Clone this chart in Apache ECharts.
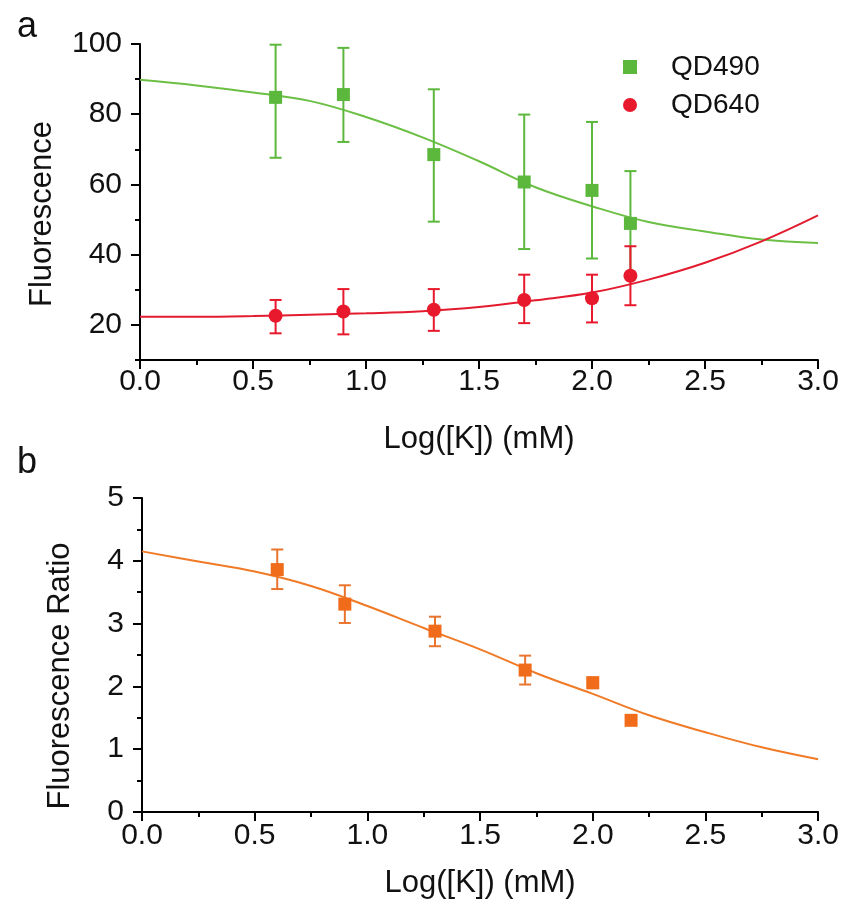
<!DOCTYPE html>
<html>
<head>
<meta charset="utf-8">
<script src="https://cdn.jsdelivr.net/npm/echarts@6/dist/echarts.min.js"></script>
<style>
html,body{margin:0;padding:0;background:#fff;}
#chart{width:842px;height:915px;}
</style>
</head>
<body>
<div id="chart"></div>
<script>
// ---- data ----
const pointX = [0.6, 0.9, 1.3, 1.7, 2.0, 2.17];

const qd490Mean  = [84.8, 85.6, 68.5, 60.7, 58.3, 48.9];
const qd490Lower = [67.6, 72.1, 49.4, 41.6, 38.9, 34.0];
const qd490Upper = [99.8, 98.9, 87.1, 79.9, 77.8, 63.8];

const qd640Mean  = [22.6, 23.8, 24.3, 27.1, 27.6, 34.0];
const qd640Lower = [17.6, 17.3, 18.3, 20.5, 20.7, 25.6];
const qd640Upper = [27.1, 30.2, 30.2, 34.3, 34.3, 42.4];

const ratioMean  = [3.86, 3.31, 2.88, 2.26, 2.06, 1.46];
const ratioLower = [3.55, 3.01, 2.64, 2.03, 1.97, 1.40];
const ratioUpper = [4.18, 3.61, 3.11, 2.49, 2.13, 1.52];

const fitX     = [0, 0.25, 0.5, 0.75, 1.0, 1.25, 1.5, 1.75, 2.0, 2.25, 2.5, 2.75, 3.0];
const fit490   = [89.8, 88.2, 86.2, 83.8, 79.2, 73.4, 66.6, 59.2, 53.8, 49.3, 46.6, 44.3, 43.3];
const fit640   = [22.3, 22.3, 22.5, 22.9, 23.3, 23.9, 25.1, 27.0, 29.2, 32.9, 37.7, 43.8, 51.2];
const fitRatio = [4.15, 3.99, 3.83, 3.60, 3.28, 2.93, 2.59, 2.21, 1.88, 1.54, 1.27, 1.03, 0.84];

const yTicksA      = [20, 40, 60, 80, 100];
const yMinorTicksA = [10, 30, 50, 70, 90];

// ---- helpers ----
const FONT = 'Liberation Sans, Arial, sans-serif';
const GREEN = '#5cb83c', GREEN_LINE = '#6cbf45';
const RED = '#e8192c', RED_LINE = '#e31b2e';
const ORANGE = '#f06c1a', ORANGE_LINE = '#f07a26';

const zip2 = (xs, ys) => xs.map((x, i) => [x, ys[i]]);
const zip3 = (xs, lo, hi) => xs.map((x, i) => [x, lo[i], hi[i]]);

function errorBarSeries(name, xi, yi, data, color, z) {
  return {
    type: 'custom', name: name, xAxisIndex: xi, yAxisIndex: yi, z: z,
    silent: true,
    data: data,
    renderItem: function (params, api) {
      const x = api.value(0);
      const lo = api.coord([x, api.value(1)]);
      const hi = api.coord([x, api.value(2)]);
      const hw = 6;
      const style = { stroke: color, lineWidth: 2 };
      return {
        type: 'group',
        children: [
          { type: 'line', shape: { x1: lo[0], y1: lo[1], x2: hi[0], y2: hi[1] }, style: style },
          { type: 'line', shape: { x1: lo[0] - hw, y1: lo[1], x2: lo[0] + hw, y2: lo[1] }, style: style },
          { type: 'line', shape: { x1: hi[0] - hw, y1: hi[1], x2: hi[0] + hw, y2: hi[1] }, style: style }
        ]
      };
    }
  };
}

function xAxisDef(gridIndex, margin, nameGap) {
  return {
    type: 'value', gridIndex: gridIndex, min: 0, max: 3, interval: 0.5,
    name: 'Log([K]) (mM)', nameLocation: 'middle', nameGap: nameGap,
    nameTextStyle: { fontFamily: FONT, fontSize: 31, color: '#111' },
    axisLine: { show: true, onZero: false, lineStyle: { color: '#000', width: 2 } },
    axisTick: { show: true, inside: false, length: 9, lineStyle: { color: '#000', width: 2 } },
    minorTick: { show: true, splitNumber: 2, length: 5, lineStyle: { color: '#000', width: 2 } },
    axisLabel: { fontFamily: FONT, fontSize: 30, color: '#111', margin: margin,
      formatter: v => v.toFixed(1) },
    splitLine: { show: false }
  };
}

const option = {
  animation: false,
  backgroundColor: '#fff',
  title: [
    { text: 'a', left: 12, top: 4, textStyle: { fontFamily: FONT, fontSize: 36, fontWeight: 'normal', color: '#111' } },
    { text: 'b', left: 12, top: 440, textStyle: { fontFamily: FONT, fontSize: 36, fontWeight: 'normal', color: '#111' } }
  ],
  legend: {
    orient: 'vertical', left: 618, top: 48, itemGap: 10,
    itemWidth: 14, itemHeight: 14,
    data: [{ name: 'QD490', icon: 'rect' }, { name: 'QD640', icon: 'circle' }],
    textStyle: { fontFamily: FONT, fontSize: 28, color: '#111', padding: [0, 0, 0, 29] }
  },
  grid: [
    { left: 140, top: 44, width: 678, height: 316 },
    { left: 142, top: 498, width: 678, height: 314 }
  ],
  xAxis: [ xAxisDef(0, 7, 64), xAxisDef(1, 9, 56) ],
  yAxis: [
    {
      type: 'value', gridIndex: 0, min: 10, max: 100, interval: 10,
      name: 'Fluorescence', nameLocation: 'middle', nameGap: 82,
      nameTextStyle: { fontFamily: FONT, fontSize: 31, color: '#111', padding: [0, 24, 0, 0] },
      axisLine: { show: true, onZero: false, lineStyle: { color: '#000', width: 2 } },
      axisTick: { show: true, inside: false, length: 9, customValues: yTicksA, lineStyle: { color: '#000', width: 2 } },
      axisLabel: { fontFamily: FONT, fontSize: 30, color: '#111', margin: 18, customValues: yTicksA },
      splitLine: { show: false }
    },
    {
      type: 'value', gridIndex: 0, min: 10, max: 100, interval: 10, position: 'left',
      axisLine: { show: false },
      axisTick: { show: true, inside: false, length: 5, customValues: yMinorTicksA, lineStyle: { color: '#000', width: 2 } },
      axisLabel: { show: false },
      splitLine: { show: false }
    },
    {
      type: 'value', gridIndex: 1, min: 0, max: 5, interval: 1,
      name: 'Fluorescence Ratio', nameLocation: 'middle', nameGap: 66,
      nameTextStyle: { fontFamily: FONT, fontSize: 31, color: '#111', padding: [0, 42, 0, 0] },
      axisLine: { show: true, onZero: false, lineStyle: { color: '#000', width: 2 } },
      axisTick: { show: true, inside: false, length: 9, lineStyle: { color: '#000', width: 2 } },
      minorTick: { show: true, splitNumber: 2, length: 5, lineStyle: { color: '#000', width: 2 } },
      axisLabel: { fontFamily: FONT, fontSize: 30, color: '#111', margin: 18 },
      splitLine: { show: false }
    }
  ],
  series: [
    { type: 'line', name: 'fit490', xAxisIndex: 0, yAxisIndex: 0, data: zip2(fitX, fit490),
      smooth: 0.4, showSymbol: false, silent: true, z: 2, lineStyle: { color: GREEN_LINE, width: 2 } },
    { type: 'line', name: 'fit640', xAxisIndex: 0, yAxisIndex: 0, data: zip2(fitX, fit640),
      smooth: 0.4, showSymbol: false, silent: true, z: 3, lineStyle: { color: RED_LINE, width: 2 } },
    errorBarSeries('err490', 0, 0, zip3(pointX, qd490Lower, qd490Upper), GREEN, 4),
    { type: 'scatter', name: 'QD490', xAxisIndex: 0, yAxisIndex: 0, data: zip2(pointX, qd490Mean),
      symbol: 'rect', symbolSize: 13, z: 5, itemStyle: { color: GREEN, opacity: 1 } },
    errorBarSeries('err640', 0, 0, zip3(pointX, qd640Lower, qd640Upper), RED, 6),
    { type: 'scatter', name: 'QD640', xAxisIndex: 0, yAxisIndex: 0, data: zip2(pointX, qd640Mean),
      symbol: 'circle', symbolSize: 14, z: 7, itemStyle: { color: RED, opacity: 1 } },

    { type: 'line', name: 'fitRatio', xAxisIndex: 1, yAxisIndex: 2, data: zip2(fitX, fitRatio),
      smooth: 0.4, showSymbol: false, silent: true, z: 2, lineStyle: { color: ORANGE_LINE, width: 2 } },
    errorBarSeries('errRatio', 1, 2, zip3(pointX, ratioLower, ratioUpper), '#e8742e', 4),
    { type: 'scatter', name: 'Ratio', xAxisIndex: 1, yAxisIndex: 2, data: zip2(pointX, ratioMean),
      symbol: 'rect', symbolSize: 13, z: 5, itemStyle: { color: ORANGE, opacity: 1 } }
  ]
};

const chart = echarts.init(document.getElementById('chart'), null, { renderer: 'canvas' });
chart.setOption(option);
</script>
</body>
</html>
